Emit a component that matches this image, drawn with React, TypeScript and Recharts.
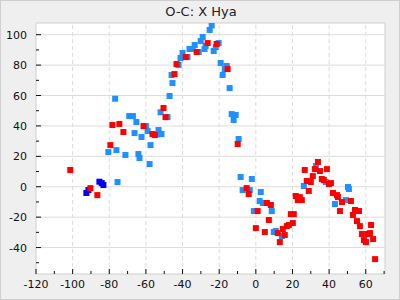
import { ScatterChart, Scatter, XAxis, YAxis, ReferenceLine, ReferenceArea } from 'recharts';

const xTicks = [-120, -110, -100, -90, -80, -70, -60, -50, -40, -30, -20, -10, 0, 10, 20, 30, 40, 50, 60, 70];
const yTicks = [-50, -40, -30, -20, -10, 0, 10, 20, 30, 40, 50, 60, 70, 80, 90, 100];
const xGrid = [-100, -80, -60, -40, -20, 0, 20, 40, 60];
const yGrid = [-40, -20, 0, 20, 40, 60, 80, 100];

const lightBluePoints: [number, number][] = [
  [-76.8, 57.9], [-52, 49], [-48.2, 45.8], [-69.1, 46.5], [-67.1, 46.5], [-65.2, 42.6],
  [-60, 39.9], [-59.1, 36.6], [-66.2, 35.3], [-62.4, 32.7], [-53.1, 37.3], [-53.7, 34.4],
  [-51.5, 34.7], [-57.5, 27.4], [-80.5, 22.8], [-76.1, 24.1], [-71.2, 20.9], [-64.1, 21.5],
  [-63.5, 18.9], [-58, 14.9], [-75.5, 3.1], [-24.1, 106.1], [-25.2, 103.1], [-29, 98.5],
  [-30.1, 95.8], [-20.3, 94.5], [-33.4, 93.2], [-34.5, 90.6], [-36.2, 90.6], [-27.4, 92.6],
  [-28, 90.6], [-21.9, 91.9], [-23, 89.3], [-31.2, 88.6], [-40, 88], [-41.1, 84.7],
  [-37.3, 85.3], [-42.2, 80.1], [-46, 73.5], [-45.5, 68.2], [-47.1, 59.7], [-19.2, 81.4],
  [-15.9, 79.4], [-17, 77.4], [-18.1, 73.5], [-14.3, 64.9], [-13.2, 47.8], [-11, 47.2],
  [-12.1, 43.9], [-9.4, 31.4], [-8.3, 6.4], [-2.2, 5.1], [-7.2, -2.2], [-3.3, -2.2],
  [2.7, -3.5], [2.1, -9.4], [3.8, -10.7], [-1.1, -16], [8.7, -16], [9.8, -29.8],
  [10.9, -29.1], [14.2, -32.4], [26.2, 0.5], [32.8, 13.6], [38.2, 3.1], [43.2, -11.4],
  [49.2, -8.8], [50.3, -0.2], [50.8, -1.5],
];

const redPoints: [number, number][] = [
  [-50.4, 51.8], [-49.3, 45.8], [-78.3, 40.6], [-74.5, 41.3], [-72.3, 36], [-61.3, 39.9],
  [-56.4, 34.7], [-55.1, 34], [-79.4, 27.4], [-101.3, 11], [-90.3, -0.9], [-86.5, -5.5],
  [-26.3, 94.5], [-21.4, 93.9], [-32.3, 88.6], [-38.3, 85.3], [-43.3, 80.7], [-44.4, 74.1],
  [-15.4, 77.4], [-9.9, 28.1], [-5, -0.9], [-3.9, -4.8], [6, -10.7], [8.2, -12],
  [1, -16], [7.1, -21.9], [0, -27.2], [4.9, -29.8], [12, -30.5], [15.8, -31.8],
  [13.1, -36.4], [14.7, -27.8], [16.9, -25.9], [18, -25.2], [20.2, -23.9], [19.1, -18],
  [20.7, -18], [21.8, -6.1], [24, -6.8], [22.9, -8.8], [25.1, -8.8], [28.9, -2.8],
  [27.8, 3.8], [30, 3.1], [31.1, 7], [26.7, 11], [32.2, 11.6], [35, 10.3],
  [33.9, 16.3], [38.8, 11.6], [36, 5.1], [37.1, 4.4], [39.9, 1.8], [41, 2.4],
  [42.1, -4.1], [44.3, -5.5], [44.8, -6.8], [47, -10.1], [51.9, -9.4], [45.9, -16],
  [54.1, -15.3], [56.3, -16], [53, -18.6], [55.2, -22.6], [56.8, -25.9], [62.9, -25.2],
  [57.9, -31.1], [61.2, -31.1], [62.3, -30.5], [59, -35.1], [60.1, -36.4], [64, -34.4],
  [65.1, -47.6],
];

const darkBluePoints: [number, number][] = [
  [-85.4, 3.3], [-84.1, 2.4], [-83.2, 1.1], [-91.4, -2.2], [-92.5, -4.1],
];

const toData = (pts: [number, number][]) => pts.map(([x, y]) => ({ x, y }));

const square = (color: string) => (props: any) => (
  <rect x={props.cx - 3} y={props.cy - 3} width={6} height={6} fill={color} />
);

const font = 'DejaVu Sans, sans-serif';

const XTick = ({ x, y, payload }: any) => {
  const major = payload.value % 20 === 0;
  return (
    <g>
      <line x1={x} x2={x} y1={y} y2={y - (major ? 5 : 3)} stroke="#111" />
      {major && (
        <text x={x} y={y + 14} textAnchor="middle" fontSize={11} fill="#111" fontFamily={font}>
          {payload.value}
        </text>
      )}
    </g>
  );
};

const YTick = ({ x, y, payload }: any) => {
  const major = payload.value % 20 === 0;
  return (
    <g>
      <line x1={x} x2={x + (major ? 5 : 3)} y1={y} y2={y} stroke="#111" />
      {major && (
        <text x={x - 9} y={y + 4} textAnchor="end" fontSize={11} fill="#111" fontFamily={font}>
          {payload.value}
        </text>
      )}
    </g>
  );
};

export default function App() {
  return (
    <div
      style={{
        position: 'absolute', left: 0, top: 0, width: 400, height: 300,
        background: '#efefef', boxSizing: 'border-box', border: '1px solid #cfcfcf',
      }}
    >
      <div
        style={{
          position: 'absolute', left: 0, top: 0, width: 400, height: 22, lineHeight: '22px',
          textAlign: 'center', fontFamily: font, fontSize: 13, color: '#222',
        }}
      >
        O-C: X Hya
      </div>
      <div style={{ position: 'absolute', left: -1, top: -1 }}>
        <ScatterChart width={400} height={300} margin={{ top: 23, right: 15, left: 0, bottom: 0 }}>
          <XAxis
            type="number"
            dataKey="x"
            domain={[-120, 70.5]}
            allowDataOverflow
            ticks={xTicks}
            interval={0}
            height={26}
            axisLine={false}
            tickLine={false}
            tickSize={0}
            tickMargin={0}
            tick={<XTick />}
          />
          <YAxis
            type="number"
            dataKey="y"
            domain={[-57.4, 107.7]}
            allowDataOverflow
            ticks={yTicks}
            interval={0}
            width={36}
            axisLine={false}
            tickLine={false}
            tickSize={0}
            tickMargin={0}
            tick={<YTick />}
          />
          <ReferenceArea x1={-120} x2={70.5} y1={-57.4} y2={107.7} fill="#ffffff" fillOpacity={1} stroke="#cfcfcf" />
          {yGrid.map((v) => (
            <ReferenceLine key={`y${v}`} y={v} stroke="#dcdcdc" />
          ))}
          {xGrid.map((v) => (
            <ReferenceLine key={`x${v}`} x={v} stroke="#dcdcdc" strokeDasharray="4 3" />
          ))}
          <Scatter data={toData(lightBluePoints)} shape={square('#1e90ff')} isAnimationActive={false} />
          <Scatter data={toData(darkBluePoints)} shape={square('#0000ff')} isAnimationActive={false} />
          <Scatter data={toData(redPoints)} shape={square('#ff0000')} isAnimationActive={false} />
        </ScatterChart>
      </div>
    </div>
  );
}
